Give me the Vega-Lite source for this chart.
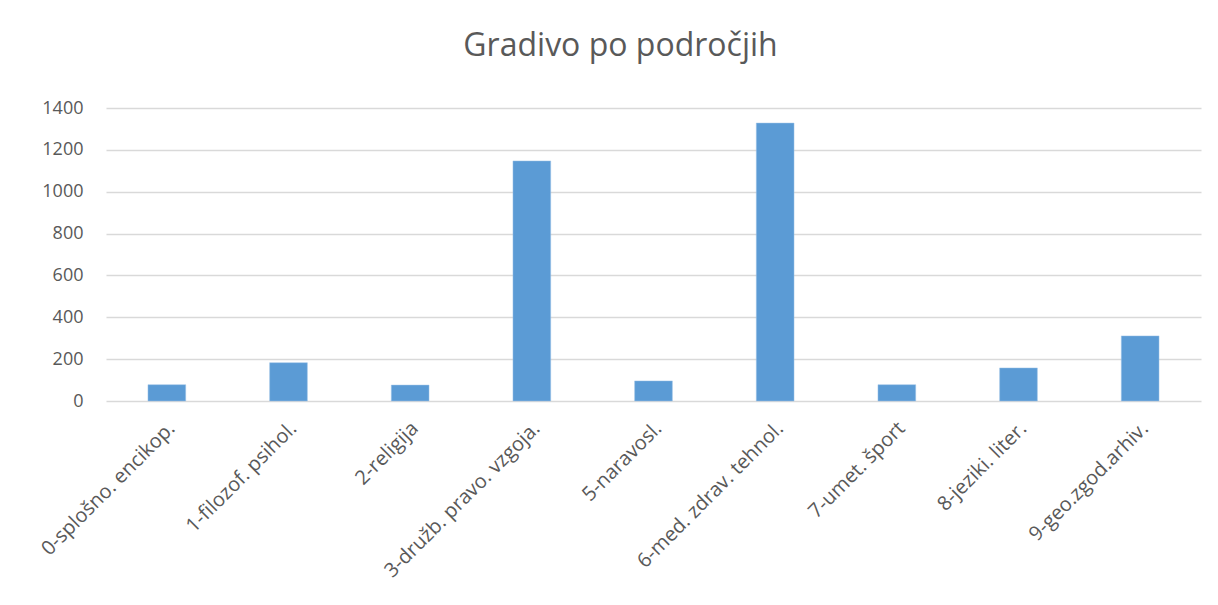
{
  "$schema": "https://vega.github.io/schema/vega-lite/v6.json",
  "autosize": {"type": "none"},
  "width": 1095,
  "height": 293,
  "padding": {"left": 106, "top": 108, "right": 17, "bottom": 204},
  "background": "white",
  "title": {
    "text": "Gradivo po področjih",
    "font": "Open Sans",
    "fontSize": 32,
    "fontWeight": "normal",
    "color": "#595959",
    "anchor": "middle",
    "dx": -33,
    "offset": 36
  },
  "data": {
    "values": [
      {"podrocje": "0-splošno. encikop.", "stevilo": 78},
      {"podrocje": "1-filozof. psihol.", "stevilo": 183},
      {"podrocje": "2-religija", "stevilo": 76},
      {"podrocje": "3-družb. pravo. vzgoja.", "stevilo": 1147},
      {"podrocje": "5-naravosl.", "stevilo": 96},
      {"podrocje": "6-med. zdrav. tehnol.", "stevilo": 1328},
      {"podrocje": "7-umet. šport", "stevilo": 78},
      {"podrocje": "8-jeziki. liter.", "stevilo": 158},
      {"podrocje": "9-geo.zgod.arhiv.", "stevilo": 311}
    ]
  },
  "mark": {"type": "bar", "color": "#5B9BD5", "stroke": "#9DC3E6", "strokeWidth": 0.5},
  "encoding": {
    "x": {
      "field": "podrocje",
      "type": "nominal",
      "sort": null,
      "title": null,
      "scale": {"paddingInner": 0.69, "paddingOuter": 0.345},
      "axis": {
        "labelAngle": -45,
        "labelAlign": "right",
        "labelBaseline": "middle",
        "labelFont": "Open Sans",
        "labelFontSize": 20,
        "labelColor": "#595959",
        "labelPadding": 24,
        "labelOffset": 5,
        "ticks": false,
        "domain": false,
        "grid": false,
        "labelLimit": 300
      }
    },
    "y": {
      "field": "stevilo",
      "type": "quantitative",
      "title": null,
      "scale": {"domain": [0, 1400]},
      "axis": {
        "values": [0, 200, 400, 600, 800, 1000, 1200, 1400],
        "format": "d",
        "labelFont": "Open Sans",
        "labelFontSize": 18,
        "labelColor": "#595959",
        "labelPadding": 23,
        "ticks": false,
        "domain": false,
        "gridColor": "#D9D9D9",
        "gridWidth": 1.3
      }
    }
  },
  "config": {"view": {"stroke": null}}
}
